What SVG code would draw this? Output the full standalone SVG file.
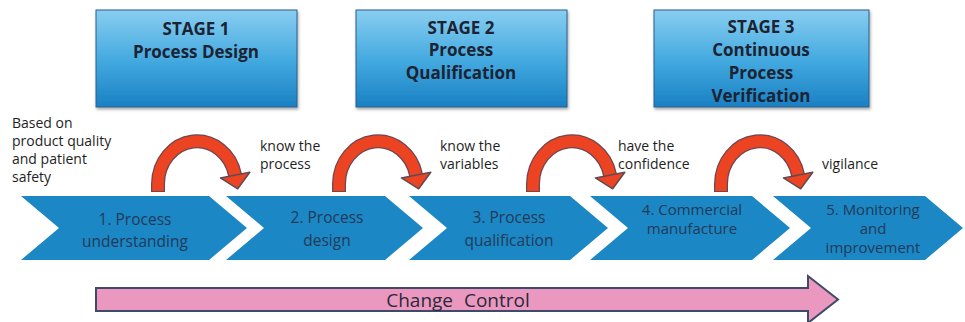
<svg xmlns="http://www.w3.org/2000/svg" width="965" height="322" viewBox="0 0 965 322">
<defs>
<linearGradient id="stageGrad" x1="0" y1="0" x2="0" y2="1">
<stop offset="0" stop-color="#88cef1"/>
<stop offset="0.55" stop-color="#40a7de"/>
<stop offset="1" stop-color="#1a80c3"/>
</linearGradient>
<filter id="shadow" x="-10%" y="-10%" width="120%" height="130%">
<feDropShadow dx="1" dy="2" stdDeviation="1.5" flood-color="#000" flood-opacity="0.35"/>
</filter>
</defs>
<style>
.stage{fill:url(#stageGrad);stroke:#2b5f8a;stroke-width:1;filter:url(#shadow)}
.stxt{font-family:"Open Sans",Lato,sans-serif;font-weight:bold;font-size:17px;fill:#1c2333;text-anchor:middle}
.chev{fill:#1b87c5}
.ctxt{font-family:"Open Sans",Lato,sans-serif;font-size:15.5px;fill:#233a57;text-anchor:middle}
.ctxs{font-family:"Open Sans",Lato,sans-serif;font-size:15px;fill:#233a57;text-anchor:middle}
.note{font-family:"Open Sans",Lato,sans-serif;font-size:14px;fill:#1e1e1e}
.arcO{fill:none;stroke:#6e4750;stroke-width:14}
.arcI{fill:none;stroke:#ec4422;stroke-width:11.5}
.head{fill:#ec4422;stroke:#5e4a55;stroke-width:1.5;stroke-linejoin:round}
.cc{fill:#eb98c0;stroke:#3e4a68;stroke-width:2}
.cctxt{font-family:"Open Sans",Lato,sans-serif;font-size:19px;fill:#2a2a38;text-anchor:middle;word-spacing:6px}
</style>

<g id="stage1">
<rect class="stage" x="96" y="10" width="201" height="97"/>
<text class="stxt" x="196" y="35">STAGE 1</text>
<text class="stxt" x="196" y="58">Process Design</text>
</g>
<g id="stage2">
<rect class="stage" x="356" y="10" width="211" height="97"/>
<text class="stxt" x="461" y="34">STAGE 2</text>
<text class="stxt" x="461" y="56">Process</text>
<text class="stxt" x="461" y="79">Qualification</text>
</g>
<g id="stage3">
<rect class="stage" x="654" y="10" width="215" height="97"/>
<text class="stxt" x="761" y="33">STAGE 3</text>
<text class="stxt" x="761" y="56">Continuous</text>
<text class="stxt" x="761" y="79">Process</text>
<text class="stxt" x="761" y="102">Verification</text>
</g>

<g id="notes">
<text class="note" x="12" y="128">Based on</text>
<text class="note" x="12" y="146">product quality</text>
<text class="note" x="12" y="164">and patient</text>
<text class="note" x="12" y="182">safety</text>
<text class="note" x="260" y="151">know the</text>
<text class="note" x="260" y="169">process</text>
<text class="note" x="440" y="151">know the</text>
<text class="note" x="440" y="169">variables</text>
<text class="note" x="618" y="151">have the</text>
<text class="note" x="618" y="169">confidence</text>
<text class="note" x="822" y="169">vigilance</text>
</g>

<g id="chevron1">
<polygon class="chev" points="21,196 209,196 247,228 209,260 21,260 59,228"/>
<text class="ctxt" x="135" y="225">1. Process</text>
<text class="ctxt" x="135" y="247">understanding</text>
</g>
<g id="chevron2">
<polygon class="chev" points="226,196 385,196 423,228 385,260 226,260 264,228"/>
<text class="ctxt" x="327" y="223">2. Process</text>
<text class="ctxt" x="327" y="246">design</text>
</g>
<g id="chevron3">
<polygon class="chev" points="409,196 570,196 608,228 570,260 409,260 447,228"/>
<text class="ctxt" x="509" y="223">3. Process</text>
<text class="ctxt" x="509" y="246">qualification</text>
</g>
<g id="chevron4">
<polygon class="chev" points="590,196 752,196 790,228 752,260 590,260 628,228"/>
<text class="ctxs" x="692" y="215">4. Commercial</text>
<text class="ctxs" x="692" y="234">manufacture</text>
</g>
<g id="chevron5">
<polygon class="chev" points="773,196 925,196 963,228 925,260 773,260 811,228"/>
<text class="ctxs" x="873" y="215">5. Monitoring</text>
<text class="ctxs" x="873" y="234">and</text>
<text class="ctxs" x="873" y="253">improvement</text>
</g>

<g id="connectors">
<g id="arc1">
<path class="arcO" d="M158 192 L158 184 A39 43 0 0 1 235.1 175.1"/>
<path class="arcI" d="M158 191 L158 184 A39 43 0 0 1 235.1 175.1"/>
<polygon class="head" points="220.4,177.9 249.8,172.3 237.7,188.8"/>
</g>
<g id="arc2">
<path class="arcO" d="M339 192 L339 184 A39 43 0 0 1 416.1 175.1"/>
<path class="arcI" d="M339 191 L339 184 A39 43 0 0 1 416.1 175.1"/>
<polygon class="head" points="401.4,177.9 430.8,172.3 418.7,188.8"/>
</g>
<g id="arc3">
<path class="arcO" d="M533 192 L533 184 A39 43 0 0 1 610.1 175.1"/>
<path class="arcI" d="M533 191 L533 184 A39 43 0 0 1 610.1 175.1"/>
<polygon class="head" points="595.4,177.9 624.8,172.3 612.7,188.8"/>
</g>
<g id="arc4">
<path class="arcO" d="M721 192 L721 184 A39 43 0 0 1 798.1 175.1"/>
<path class="arcI" d="M721 191 L721 184 A39 43 0 0 1 798.1 175.1"/>
<polygon class="head" points="783.4,177.9 812.8,172.3 800.7,188.8"/>
</g>
</g>

<g id="changeControl">
<polygon class="cc" points="96,288 808,288 808,276 838,299.5 808,323 808,311 96,311"/>
<text class="cctxt" x="458" y="307">Change Control</text>
</g>
</svg>
